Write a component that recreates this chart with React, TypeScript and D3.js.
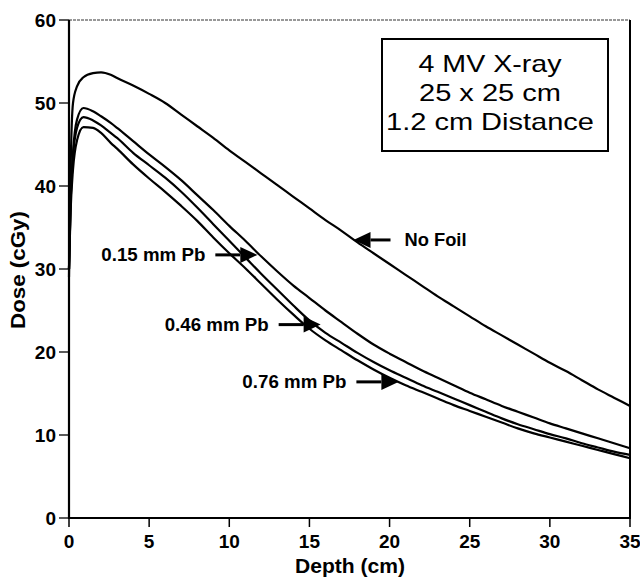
import React from "react";
import * as d3 from "d3";

const depths = [0, 0.1, 0.25, 0.5, 0.9, 1.5, 2, 2.6, 3, 4, 5, 6, 7, 8, 9, 10, 11, 12, 13, 14, 15, 16, 17, 18, 19, 20, 21, 22, 23, 24, 25, 26, 27, 28, 29, 30, 31, 32, 33, 34, 35];

const noFoil = [29, 42, 50, 52, 53.1, 53.6, 53.7, 53.4, 53.0, 52.1, 51.1, 50.0, 48.6, 47.2, 45.8, 44.3, 42.9, 41.5, 40.1, 38.7, 37.3, 35.9, 34.6, 33.2, 31.9, 30.6, 29.3, 28.0, 26.7, 25.5, 24.3, 23.1, 22.0, 20.9, 19.8, 18.7, 17.7, 16.6, 15.5, 14.5, 13.5];
const pb015 = [30, 38, 44, 48, 49.4, 49.0, 48.4, 47.6, 47.0, 45.4, 43.8, 42.3, 40.7, 38.9, 37.1, 35.2, 33.4, 31.5, 29.7, 28.0, 26.5, 25.0, 23.6, 22.2, 20.9, 19.8, 18.8, 17.8, 16.9, 16.0, 15.1, 14.3, 13.5, 12.8, 12.1, 11.4, 10.8, 10.2, 9.6, 9.0, 8.4];
const pb046 = [30, 38, 43.5, 47, 48.3, 47.9, 47.3, 46.4, 45.8, 44.0, 42.5, 41.0, 39.3, 37.4, 35.4, 33.4, 31.4, 29.4, 27.5, 25.6, 23.8, 22.3, 21.1, 19.9, 18.8, 17.8, 16.9, 16.0, 15.2, 14.4, 13.6, 12.8, 12.0, 11.3, 10.7, 10.1, 9.6, 9.0, 8.5, 8.0, 7.6];
const pb076 = [30, 37, 42, 45.5, 47.1, 47.0, 46.4, 45.2, 44.5, 42.6, 40.9, 39.3, 37.6, 35.8, 33.8, 31.9, 30.1, 28.2, 26.3, 24.5, 22.8, 21.4, 20.2, 19.0, 17.9, 16.9, 16.0, 15.2, 14.4, 13.6, 12.9, 12.2, 11.5, 10.8, 10.2, 9.7, 9.2, 8.7, 8.2, 7.7, 7.2];

const seriesList = [noFoil, pb015, pb046, pb076];

const xTicks = [0, 5, 10, 15, 20, 25, 30, 35];
const yTicks = [0, 10, 20, 30, 40, 50, 60];

// annotation: label, arrow tip (depth, dose), direction
const annLabels = ["No Foil", "0.15 mm Pb", "0.46 mm Pb", "0.76 mm Pb"];
const annDepth = [17.75, 11.75, 15.7, 20.55];
const annDose = [33.5, 31.7, 23.3, 16.4];
const annDir = ["left", "right", "right", "right"];

const boxLines = ["4 MV X-ray", "25 x 25 cm", "1.2 cm Distance"];
const boxLineWidths = [143, 142, 208];

const W = 640, H = 578;
const left = 69, right = 630, top = 20, bottom = 518;

export default function App() {
  const x = d3.scaleLinear().domain([0, 35]).range([left, right]);
  const y = d3.scaleLinear().domain([0, 60]).range([bottom, top]);
  const line = d3.line<number>().x((_, i) => x(depths[i])).y((d) => y(d)).curve(d3.curveMonotoneX);
  const font = "'Liberation Sans', Arial, Helvetica, sans-serif";

  return (
    <svg width={W} height={H} style={{ position: "absolute", left: 0, top: 0, background: "#fff" }} fontFamily={font}>
      <rect x={0} y={0} width={W} height={H} fill="#fff" />
      {/* frame */}
      <line x1={left} x2={right} y1={top} y2={top} stroke="#333" strokeWidth={1.2} strokeDasharray="3,1" />
      <line x1={right} x2={right} y1={top} y2={bottom} stroke="#000" strokeWidth={2} />
      <line x1={left} x2={left} y1={top} y2={bottom + 1} stroke="#000" strokeWidth={2.2} />
      <line x1={left - 1} x2={right + 1} y1={bottom} y2={bottom} stroke="#000" strokeWidth={2.2} />
      {/* y ticks */}
      {yTicks.map((t) => (
        <g key={"y" + t}>
          <line x1={left - 10} x2={left} y1={y(t)} y2={y(t)} stroke="#000" strokeWidth={1.3} />
          <text x={left - 13} y={y(t) + 7} textAnchor="end" fontSize={19} fontWeight="bold">{t}</text>
        </g>
      ))}
      {/* x ticks */}
      {xTicks.map((t) => (
        <g key={"x" + t}>
          <line x1={x(t)} x2={x(t)} y1={bottom} y2={bottom + 9} stroke="#000" strokeWidth={1.5} />
          <text x={x(t)} y={bottom + 30} textAnchor="middle" fontSize={19} fontWeight="bold">{t}</text>
        </g>
      ))}
      <text x={350} y={573} textAnchor="middle" fontSize={20} fontWeight="bold" textLength={110} lengthAdjust="spacingAndGlyphs">Depth (cm)</text>
      <text transform="translate(25,270) rotate(-90)" textAnchor="middle" fontSize={20} fontWeight="bold" textLength={118} lengthAdjust="spacingAndGlyphs">Dose (cGy)</text>
      {/* curves */}
      {seriesList.map((s, i) => (
        <path key={"s" + i} d={line(s) || ""} fill="none" stroke="#000" strokeWidth={2.2} strokeLinejoin="round" />
      ))}
      {/* annotations */}
      {annLabels.map((lab, i) => {
        const tx = x(annDepth[i]);
        const ty = y(annDose[i]);
        if (annDir[i] === "left") {
          const base = tx + 17;
          return (
            <g key={"a" + i}>
              <path d={`M${tx},${ty} L${base},${ty - 8} L${base},${ty + 8} Z`} fill="#000" />
              <line x1={base} x2={base + 20} y1={ty} y2={ty} stroke="#000" strokeWidth={3} />
              <text x={base + 34} y={ty + 6.5} fontSize={18} fontWeight="bold" textLength={62} lengthAdjust="spacingAndGlyphs">{lab}</text>
            </g>
          );
        }
        const base = tx - 17;
        return (
          <g key={"a" + i}>
            <path d={`M${tx},${ty} L${base},${ty - 8} L${base},${ty + 8} Z`} fill="#000" />
            <line x1={base - 25} x2={base} y1={ty} y2={ty} stroke="#000" strokeWidth={3} />
            <text x={base - 35} y={ty + 6.5} textAnchor="end" fontSize={18} fontWeight="bold" textLength={104} lengthAdjust="spacingAndGlyphs">{lab}</text>
          </g>
        );
      })}
      {/* info box */}
      <rect x={382} y={39} width={226} height={112} fill="#fff" stroke="#000" strokeWidth={2} />
      {boxLines.map((t, i) => (
        <text key={"b" + i} x={490} y={72 + i * 29} textAnchor="middle" fontSize={24} textLength={boxLineWidths[i]} lengthAdjust="spacingAndGlyphs">{t}</text>
      ))}
    </svg>
  );
}
